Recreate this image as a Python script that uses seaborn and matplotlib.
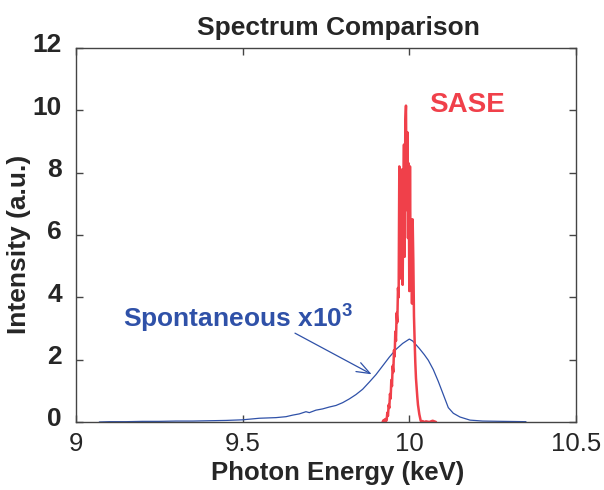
import numpy as np
import pandas as pd
import seaborn as sns
import matplotlib.pyplot as plt
from matplotlib.transforms import ScaledTranslation

# --- dados ---
spont_energy = [9.07, 9.10, 9.15, 9.20, 9.25, 9.30, 9.35, 9.40, 9.45, 9.50, 9.55, 9.60,
                9.63, 9.65, 9.67, 9.69, 9.70, 9.72, 9.74, 9.76, 9.78, 9.80, 9.82, 9.84,
                9.86, 9.88, 9.90, 9.92, 9.94, 9.96, 9.98, 10.00, 10.01, 10.02, 10.03,
                10.045, 10.057, 10.072, 10.087, 10.102, 10.117, 10.132, 10.152, 10.182,
                10.22, 10.28, 10.35]
spont_int = [0.00, 0.01, 0.01, 0.02, 0.02, 0.03, 0.03, 0.04, 0.05, 0.07, 0.12, 0.14,
             0.17, 0.22, 0.26, 0.33, 0.30, 0.38, 0.42, 0.48, 0.53, 0.62, 0.74, 0.88,
             1.05, 1.28, 1.52, 1.80, 2.08, 2.33, 2.52, 2.66, 2.60, 2.48, 2.36,
             2.16, 1.98, 1.68, 1.30, 0.88, 0.46, 0.28, 0.16, 0.06,
             0.03, 0.02, 0.01]

sase_energy = [9.920, 9.922, 9.924, 9.926, 9.928, 9.930, 9.932, 9.934, 9.936, 9.938,
               9.940, 9.942, 9.944, 9.946, 9.948, 9.950, 9.952, 9.954, 9.956, 9.958,
               9.960, 9.962, 9.964, 9.966, 9.968, 9.970, 9.972, 9.974, 9.976, 9.978,
               9.980, 9.982, 9.984, 9.986, 9.988, 9.990, 9.992, 9.994, 9.996, 9.998,
               10.000, 10.002, 10.004, 10.006, 10.008, 10.010, 10.012, 10.014, 10.016,
               10.018, 10.020, 10.022, 10.024, 10.026, 10.028, 10.030, 10.032, 10.034,
               10.036, 10.040, 10.044, 10.050, 10.060, 10.070, 10.080]
sase_int = [0.00, 0.05, 0.00, 0.08, 0.02, 0.10, 0.05, 0.30, 0.20, 0.55,
            0.45, 0.90, 0.75, 1.35, 1.15, 1.80, 1.60, 2.30, 2.10, 2.90,
            2.60, 3.50, 3.20, 4.30, 4.00, 8.20, 4.60, 7.80, 5.00, 8.10,
            4.40, 7.20, 8.90, 5.30, 9.60, 10.15, 6.80, 9.30, 5.90, 8.30,
            4.20, 8.20, 5.00, 6.50, 3.80, 6.50, 5.20, 3.40, 2.60,
            1.90, 1.40, 1.10, 0.80, 0.55, 0.40, 0.25, 0.15, 0.05,
            0.00, 0.03, 0.00, 0.02, 0.00, 0.04, 0.00]

x_ticks = [9, 9.5, 10, 10.5]
x_ticklabels = ['9', '9.5', '10', '10.5']
y_ticks = [0, 2, 4, 6, 8, 10, 12]

df_spont = pd.DataFrame({'energy': spont_energy, 'intensity': spont_int})
df_sase = pd.DataFrame({'energy': sase_energy, 'intensity': sase_int})

blue = '#2f51a8'
red = '#f0404a'

sns.set_theme(style='ticks')
plt.rcParams['font.family'] = ['Liberation Sans', 'DejaVu Sans']
plt.rcParams['mathtext.fontset'] = 'custom'
plt.rcParams['mathtext.bf'] = 'Liberation Sans:bold'
plt.rcParams['mathtext.rm'] = 'Liberation Sans:bold'

fig = plt.figure(figsize=(6.04, 4.9), dpi=100)
ax = fig.add_axes([0.1258, 0.1388, 0.8278, 0.7633])

sns.lineplot(data=df_spont, x='energy', y='intensity', ax=ax, color=blue,
             lw=0.9, estimator=None, sort=False)
sns.lineplot(data=df_sase, x='energy', y='intensity', ax=ax, color=red,
             lw=1.8, estimator=None, sort=False)

ax.set_xlim(9, 10.5)
ax.set_ylim(0, 12)
ax.set_xticks(x_ticks)
ax.set_xticklabels(x_ticklabels)
ax.set_yticks(y_ticks)

for sp in ax.spines.values():
    sp.set_visible(True)
    sp.set_color('#444444')
    sp.set_linewidth(1.0)
ax.tick_params(direction='in', length=5, width=1, color='#444444',
               top=True, right=True)
ax.tick_params(axis='x', labelsize=18.5, pad=7)
ax.tick_params(axis='y', labelsize=19, pad=10)
for lab in ax.get_yticklabels():
    lab.set_fontweight('bold')
    lab.set_transform(lab.get_transform() + ScaledTranslation(0, 5 / 100, fig.dpi_scale_trans))

ax.set_title('Spectrum Comparison', fontsize=19, fontweight='bold', pad=9, x=0.524)
ax.set_xlabel('Photon Energy (keV)', fontsize=18.5, fontweight='bold', labelpad=4)
ax.xaxis.set_label_coords(0.524, -0.105)
ax.set_ylabel('Intensity (a.u.)', fontsize=19, fontweight='bold', labelpad=1)
ax.yaxis.label.set_y(0.476)

ax.text(10.059, 10.16, 'SASE', color=red, fontsize=20, fontweight='bold', va='center')
ax.text(9.141, 3.05, r'Spontaneous x10$^{\mathbf{3}}$', color=blue, fontsize=19,
        fontweight='bold', va='baseline')
ax.annotate('', xy=(9.887, 1.53), xytext=(9.657, 2.85),
            arrowprops=dict(arrowstyle='->,head_length=0.8,head_width=0.3',
                            color=blue, lw=0.9, shrinkA=0, shrinkB=0))

plt.savefig('out.png', dpi=100)
